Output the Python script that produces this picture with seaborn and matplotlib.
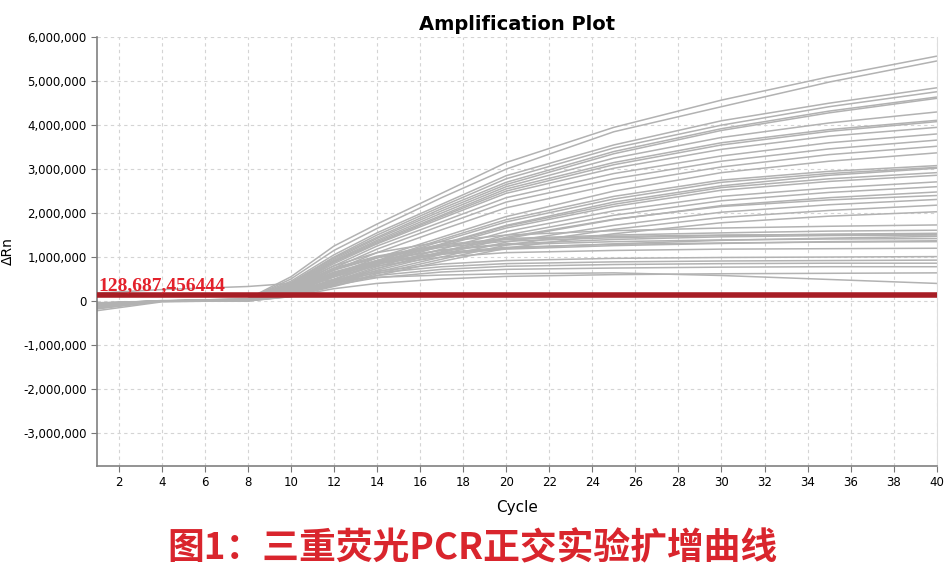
import numpy as np
import pandas as pd
import seaborn as sns
import matplotlib.pyplot as plt
from matplotlib.ticker import FuncFormatter

cycles = [1, 4, 8, 10, 12, 14, 17, 20, 25, 30, 35, 40]

# steep wells (high plateau)
high_wells = [
    [-0.05, 0.00, 0.05, 0.55, 1.25, 1.75, 2.45, 3.15, 3.95, 4.57, 5.10, 5.57],
    [-0.10, 0.00, 0.04, 0.50, 1.15, 1.65, 2.35, 3.00, 3.85, 4.42, 4.98, 5.46],
    [-0.08, 0.00, 0.05, 0.45, 1.05, 1.55, 2.20, 2.85, 3.55, 4.10, 4.50, 4.85],
    [-0.12, 0.00, 0.03, 0.42, 1.00, 1.50, 2.15, 2.78, 3.48, 4.00, 4.42, 4.76],
    [-0.06, 0.01, 0.04, 0.40, 0.98, 1.45, 2.10, 2.70, 3.40, 3.92, 4.32, 4.64],
    [-0.15, -0.01, 0.03, 0.38, 0.95, 1.42, 2.05, 2.65, 3.35, 3.88, 4.28, 4.61],
    [-0.08, 0.00, 0.03, 0.36, 0.92, 1.38, 2.00, 2.60, 3.25, 3.72, 4.05, 4.30],
    [-0.04, 0.00, 0.03, 0.35, 0.90, 1.35, 1.95, 2.55, 3.15, 3.60, 3.90, 4.11],
    [-0.09, 0.00, 0.03, 0.33, 0.88, 1.32, 1.92, 2.50, 3.10, 3.55, 3.86, 4.08],
    [-0.11, 0.00, 0.02, 0.32, 0.85, 1.30, 1.88, 2.45, 3.02, 3.45, 3.75, 3.95],
    [-0.07, 0.00, 0.02, 0.30, 0.80, 1.25, 1.80, 2.35, 2.90, 3.30, 3.60, 3.80],
    [-0.13, 0.00, 0.02, 0.28, 0.75, 1.18, 1.72, 2.25, 2.78, 3.18, 3.46, 3.66],
    [-0.05, 0.00, 0.02, 0.25, 0.70, 1.10, 1.62, 2.12, 2.65, 3.05, 3.33, 3.52],
]

# wells still climbing at cycle 40
mid_wells = [
    [-0.10, 0.00, 0.02, 0.22, 0.60, 0.98, 1.45, 1.92, 2.50, 2.92, 3.18, 3.37],
    [-0.16, 0.00, 0.02, 0.20, 0.58, 0.92, 1.40, 1.85, 2.38, 2.75, 2.95, 3.08],
    [-0.06, 0.00, 0.01, 0.18, 0.55, 0.90, 1.36, 1.80, 2.32, 2.70, 2.90, 3.04],
    [-0.10, 0.00, 0.02, 0.20, 0.55, 0.88, 1.30, 1.72, 2.25, 2.62, 2.86, 3.02],
    [-0.12, 0.00, 0.01, 0.17, 0.50, 0.85, 1.28, 1.70, 2.20, 2.58, 2.78, 2.92],
    [-0.08, 0.00, 0.01, 0.16, 0.48, 0.82, 1.25, 1.66, 2.15, 2.52, 2.72, 2.86],
    [-0.14, 0.00, 0.01, 0.15, 0.45, 0.78, 1.18, 1.58, 2.05, 2.38, 2.57, 2.71],
    [-0.05, 0.00, 0.01, 0.14, 0.42, 0.74, 1.12, 1.50, 1.95, 2.28, 2.47, 2.60],
    [-0.10, 0.00, 0.01, 0.13, 0.40, 0.70, 1.06, 1.42, 1.85, 2.17, 2.35, 2.48],
    [-0.17, 0.00, 0.02, 0.16, 0.44, 0.74, 1.10, 1.45, 1.86, 2.15, 2.30, 2.40],
    [-0.18, 0.00, 0.01, 0.12, 0.38, 0.66, 1.00, 1.34, 1.72, 2.02, 2.19, 2.31],
    [-0.07, 0.00, 0.00, 0.11, 0.35, 0.62, 0.95, 1.27, 1.63, 1.90, 2.06, 2.18],
    [-0.11, 0.00, 0.00, 0.10, 0.33, 0.58, 0.90, 1.20, 1.53, 1.78, 1.93, 2.03],
]

# wells that level off early
flat_wells = [
    [-0.09, 0.00, 0.03, 0.35, 0.80, 1.10, 1.35, 1.50, 1.60, 1.66, 1.70, 1.73],
    [-0.13, 0.00, 0.03, 0.32, 0.75, 1.02, 1.28, 1.42, 1.50, 1.55, 1.59, 1.61],
    [-0.06, 0.00, 0.02, 0.30, 0.70, 0.98, 1.22, 1.36, 1.44, 1.49, 1.52, 1.54],
    [-0.05, 0.00, 0.02, 0.30, 0.72, 1.00, 1.25, 1.40, 1.47, 1.50, 1.51, 1.52],
    [-0.13, 0.00, 0.02, 0.27, 0.64, 0.92, 1.16, 1.30, 1.40, 1.46, 1.49, 1.50],
    [-0.10, 0.00, 0.02, 0.26, 0.60, 0.86, 1.08, 1.20, 1.30, 1.38, 1.43, 1.47],
    [-0.15, 0.00, 0.02, 0.28, 0.66, 0.92, 1.15, 1.28, 1.35, 1.39, 1.41, 1.42],
    [-0.06, 0.00, 0.02, 0.24, 0.58, 0.84, 1.06, 1.18, 1.26, 1.31, 1.35, 1.37],
    [-0.08, 0.00, 0.02, 0.25, 0.62, 0.88, 1.10, 1.22, 1.29, 1.32, 1.34, 1.35],
    [-0.12, 0.00, 0.02, 0.22, 0.55, 0.80, 1.00, 1.10, 1.15, 1.18, 1.19, 1.20],
]

# weak wells
low_wells = [
    [-0.14, 0.00, 0.02, 0.20, 0.48, 0.68, 0.84, 0.92, 0.97, 0.99, 1.00, 1.01],
    [-0.07, 0.00, 0.02, 0.18, 0.45, 0.64, 0.78, 0.85, 0.89, 0.91, 0.92, 0.93],
    [-0.11, 0.00, 0.01, 0.16, 0.40, 0.58, 0.72, 0.79, 0.83, 0.85, 0.86, 0.86],
    [-0.09, 0.00, 0.01, 0.14, 0.36, 0.53, 0.66, 0.72, 0.75, 0.77, 0.78, 0.78],
    [-0.22, -0.02, 0.01, 0.10, 0.28, 0.40, 0.50, 0.56, 0.60, 0.62, 0.63, 0.64],
    [0.18, 0.26, 0.33, 0.40, 0.48, 0.54, 0.59, 0.62, 0.64, 0.58, 0.49, 0.40],
]

threshold = 128687.456444
threshold_label = "128,687,456444"
y_ticks = [-3000000, -2000000, -1000000, 0, 1000000, 2000000, 3000000,
           4000000, 5000000, 6000000]
x_ticks = list(range(2, 41, 2))

rows = []
well = 0
for group in [high_wells, mid_wells, flat_wells, low_wells]:
    for vals in group:
        for c, v in zip(cycles, vals):
            rows.append({"well": well, "cycle": c, "rn": v * 1e6})
        well += 1
df = pd.DataFrame(rows)

sns.set_style("white")
fig = plt.figure(figsize=(9.52, 5.73), dpi=100)
ax = fig.add_axes([0.102, 0.187, 0.882, 0.748])

sns.lineplot(data=df, x="cycle", y="rn", units="well", estimator=None,
             color="#b2b2b2", lw=1.1, ax=ax, legend=False)
for ln in ax.get_lines():
    ln.set_solid_joinstyle("round")

ax.axhline(threshold, color="#a71d25", lw=4, zorder=5)
ax.text(1.05, threshold + 30000, threshold_label,
        color="#e3212b", fontsize=14, fontweight="bold", family="Liberation Serif",
        va="bottom", ha="left", zorder=6)

ax.set_xlim(1, 40)
ax.set_ylim(-3750000, 6000000)
ax.set_xticks(x_ticks)
ax.set_yticks(y_ticks)
ax.yaxis.set_major_formatter(FuncFormatter(lambda v, p: "{:,.0f}".format(v)))
ax.tick_params(axis="both", labelsize=8.5, length=4, color="#777777",
               labelcolor="black", direction="out", bottom=True, left=True)
ax.grid(True, ls=(0, (3, 3)), color="#d4d4d4", lw=0.8)

for side in ["left", "bottom"]:
    ax.spines[side].set_color("#808080")
    ax.spines[side].set_linewidth(1.2)
ax.spines["top"].set_visible(False)
ax.spines["right"].set_color("#dddddd")

ax.set_xlabel("Cycle", fontsize=11, labelpad=8, color="black")
ax.set_ylabel("ΔRn", fontsize=10, labelpad=6, color="black")
ax.set_title("Amplification Plot", fontsize=14, fontweight="bold", pad=5,
             color="black")

fig.text(0.496, 0.042, "图1：三重荧光PCR正交实验扩增曲线", color="#d9252d",
         fontsize=26.5, fontweight="bold", ha="center", va="center",
         family=["Noto Sans CJK SC", "DejaVu Sans"])

fig.savefig("out.png", dpi=100)
